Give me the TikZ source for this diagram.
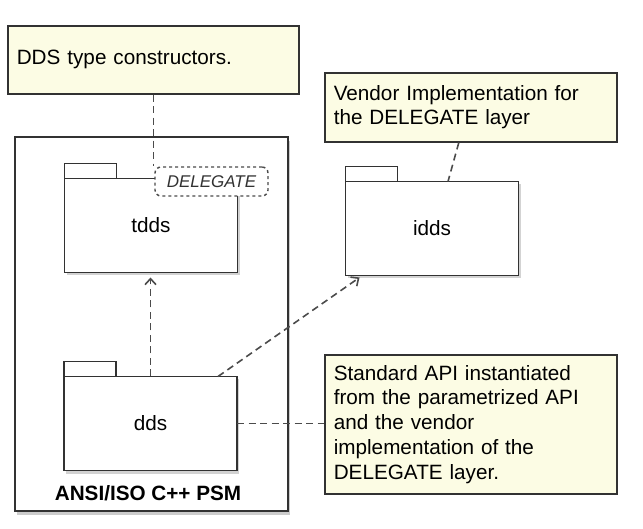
\documentclass[tikz,border=0pt]{standalone}
\usepackage{fontspec}
\setmainfont{Liberation Sans}
\usetikzlibrary{arrows.meta,shadows}
\definecolor{notefill}{RGB}{252,252,228}
\definecolor{linegray}{RGB}{50,50,50}
\definecolor{dashgray}{RGB}{75,75,75}
\begin{document}
\begin{tikzpicture}[x=1pt,y=-1pt,>={Straight Barb[length=6pt,width=11pt]},
        note/.style={draw=linegray,fill=notefill,line width=1.6pt,anchor=north west,
            align=left,inner xsep=9pt,inner ysep=0pt,text width=274pt,
            font=\fontsize{20.7}{24.7}\selectfont},
        pkg/.style={draw=linegray,fill=white,line width=1.7pt,minimum width=173pt,
            minimum height=94pt,outer sep=0pt,font=\fontsize{20.7}{24.7}\selectfont,
            drop shadow={shadow xshift=2pt,shadow yshift=-3pt,opacity=0.35}},
        pkgtab/.style={draw=linegray,fill=white,line width=1.7pt,minimum width=52pt,
            minimum height=15pt,inner sep=0pt,outer sep=0pt,anchor=south west},
        tag/.style={draw=dashgray,fill=white,dashed,rounded corners=6pt,line width=1.4pt,
            minimum width=113pt,minimum height=29pt,inner sep=0pt,text=linegray,
            font=\fontsize{17}{20}\selectfont\itshape},
        dep/.style={dashgray,line width=1.6pt,dash pattern=on 7pt off 4.5pt}]
    \useasboundingbox (0,0) rectangle (643,529);
    % frame of the PSM
    \node[draw=linegray,fill=white,line width=1.7pt,minimum width=273pt,minimum height=374pt,
        drop shadow={shadow xshift=2pt,shadow yshift=-4pt,opacity=0.4}] (psm) at (151.5,324) {};
    \node[font=\fontsize{20.7}{24.7}\selectfont\bfseries] (psmname) at (148,493) {ANSI/ISO C++ PSM};
    % packages
    \node[pkg] (tdds) at (151,225.5) {tdds};
    \node[pkg] (idds) at (432,228.5) {idds};
    \node[pkg] (dds) at (150.5,423.5) {dds};
    \foreach \p in {tdds,idds,dds}
    \node[pkgtab] (\p tab) at (\p.north west) {};
    \node[tag] (deleg) at (211.5,181.5) {DELEGATE};
    % notes
    \node[note,text width=273pt,minimum height=68pt] (note1) at (7,25) {DDS type constructors.};
    \node[note,minimum height=69pt] (note2) at (324,72)
        {Vendor Implementation for\\the DELEGATE layer};
    \node[note,minimum height=139pt] (note3) at (324,354)
        {Standard API instantiated\\from the parametrized API\\and the vendor\\implementation of the\\DELEGATE layer.};
    % links
    \draw[dep] (note1.south) -- (note1.south |- deleg.north);
    \draw[dep] ([xshift=-12pt]note2.south) -- ([xshift=16pt]idds.north);
    \draw[dep,->,shorten >=5pt] (dds.north) -- (dds.north |- tdds.south);
    \draw[dep,->] ([xshift=-19pt]dds.north east) -- ([xshift=14pt,yshift=-2pt]idds.south west);
    \draw[dep] (dds.east) -- (dds.east -| note3.west);
\end{tikzpicture}
\end{document}
